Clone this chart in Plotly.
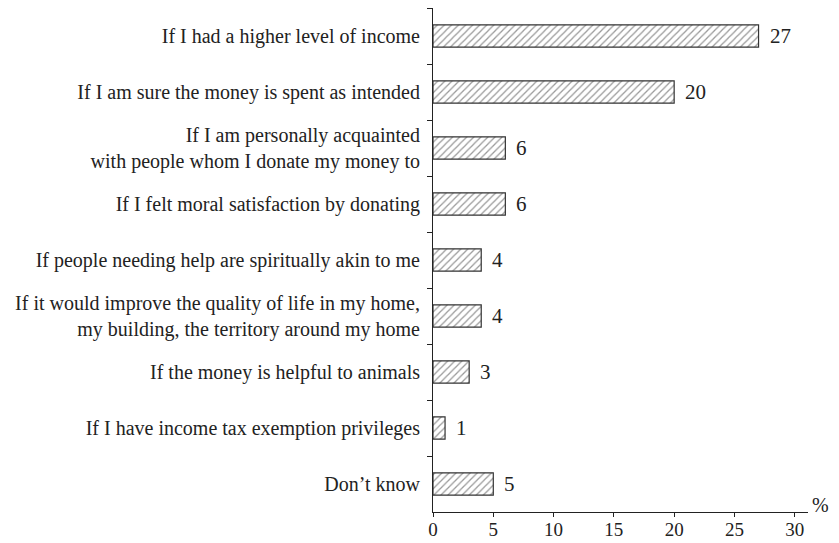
import plotly.graph_objects as go

categories = [
    "If I had a higher level of income",
    "If I am sure the money is spent as intended",
    "If I am personally acquainted<br>with people whom I donate my money to",
    "If I felt moral satisfaction by donating",
    "If people needing help are spiritually akin to me",
    "If it would improve the quality of life in my home,<br>my building, the territory around my home",
    "If the money is helpful to animals",
    "If I have income tax exemption privileges",
    "Don\u2019t know",
]
values = [27, 20, 6, 6, 4, 4, 3, 1, 5]
x_ticks = [0, 5, 10, 15, 20, 25, 30]

FONT = "Liberation Serif"
fig = go.Figure()
fig.add_trace(go.Bar(
    x=values, y=categories, orientation="h", width=0.4,
    marker=dict(color="white", line=dict(color="#333333", width=1.2),
                pattern=dict(shape="/", fgcolor="#333333", bgcolor="white", size=5, solidity=0.25)),
    hoverinfo="skip",
))
for v, c in zip(values, categories):
    fig.add_annotation(x=v, y=c, text=str(v), showarrow=False, xanchor="left",
                       xshift=9, font=dict(family=FONT, size=21, color="#222"))
fig.add_annotation(x=1, y=0, xref="paper", yref="paper", text="%", showarrow=False,
                   xanchor="left", yanchor="bottom", xshift=2, yshift=-6,
                   font=dict(family=FONT, size=20, color="#222"))
fig.update_layout(
    width=831, height=535, plot_bgcolor="white", paper_bgcolor="white",
    margin=dict(l=425, r=31, t=0, b=31, pad=0), showlegend=False,
    font=dict(family=FONT, size=20, color="#222"),
    xaxis=dict(range=[0, 31.1], tickvals=x_ticks, showgrid=False, zeroline=False,
               showline=True, linecolor="#222", linewidth=1, ticks="outside",
               ticklen=4, tickcolor="#222", tickfont=dict(size=19), automargin=False,
               ticklabelstandoff=-4),
    yaxis=dict(autorange="reversed", showgrid=False, showline=True, linecolor="#222",
               linewidth=1, ticks="outside", ticklen=5, tickcolor="#222",
               tickson="boundaries", ticklabelstandoff=8, automargin=False,
               tickfont=dict(size=20)),
)
fig.write_html("out.html")
